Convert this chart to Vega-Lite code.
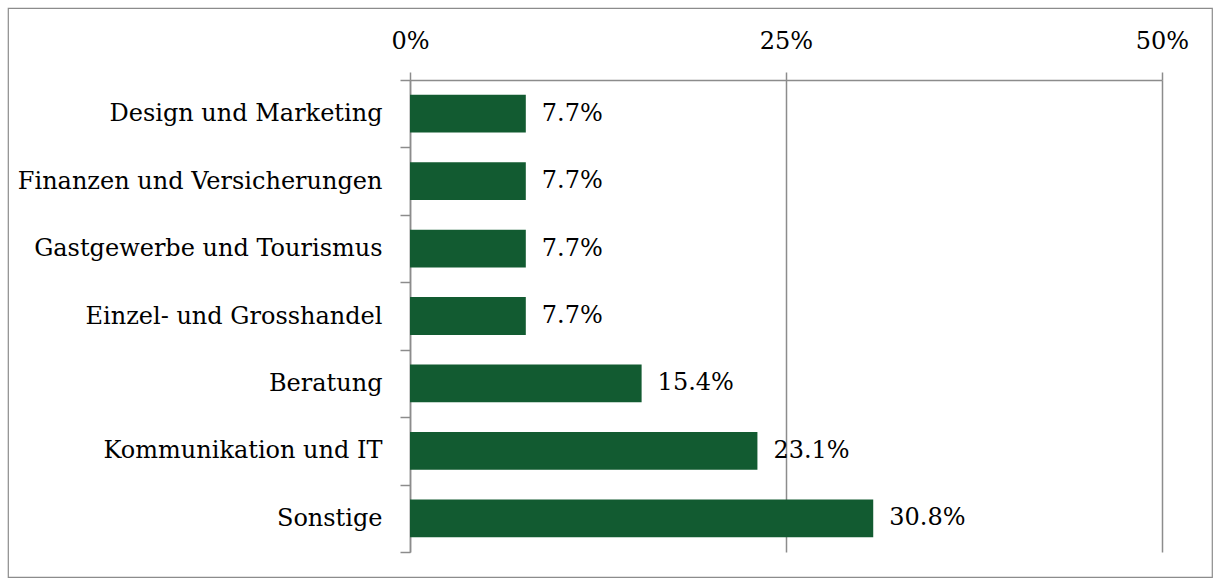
{
  "$schema": "https://vega.github.io/schema/vega-lite/v6.json",
  "width": 1204,
  "height": 569,
  "autosize": {"type": "none"},
  "padding": {"left": 8, "top": 8, "right": 2, "bottom": 2},
  "background": "white",
  "config": {
    "view": {"stroke": "#8c8c8c", "strokeWidth": 1.2},
    "font": "DejaVu Serif"
  },
  "data": {
    "values": [
      {"sector": "Design und Marketing", "share": 0.077},
      {"sector": "Finanzen und Versicherungen", "share": 0.077},
      {"sector": "Gastgewerbe und Tourismus", "share": 0.077},
      {"sector": "Einzel- und Grosshandel", "share": 0.077},
      {"sector": "Beratung", "share": 0.154},
      {"sector": "Kommunikation und IT", "share": 0.231},
      {"sector": "Sonstige", "share": 0.308}
    ]
  },
  "encoding": {
    "y": {
      "field": "sector",
      "type": "nominal",
      "sort": null,
      "scale": {"range": [72, 544], "paddingInner": 0, "paddingOuter": 0},
      "axis": {
        "title": null,
        "orient": "left",
        "offset": -402,
        "tickBand": "extent",
        "tickSize": 10,
        "tickColor": "#8c8c8c",
        "tickWidth": 1.5,
        "domainColor": "#8c8c8c",
        "domainWidth": 1.5,
        "labelPadding": 18,
        "labelFontSize": 24,
        "labelColor": "#000000",
        "labelLimit": 0,
        "grid": false
      }
    },
    "x": {
      "field": "share",
      "type": "quantitative",
      "scale": {"domain": [0, 0.5], "range": [402, 1154], "nice": false, "zero": true},
      "axis": {
        "title": null,
        "orient": "top",
        "offset": -72,
        "values": [0, 0.25, 0.5],
        "format": ".0%",
        "labelFlush": false,
        "tickSize": 8,
        "tickColor": "#8c8c8c",
        "tickWidth": 1.5,
        "domainColor": "#8c8c8c",
        "domainWidth": 1.5,
        "grid": true,
        "gridColor": "#8c8c8c",
        "gridWidth": 1.5,
        "gridOpacity": 1,
        "labelPadding": 19,
        "labelFontSize": 24,
        "labelColor": "#000000"
      }
    }
  },
  "layer": [
    {"mark": {"type": "bar", "color": "#125b31", "height": {"band": 0.56}}},
    {
      "mark": {"type": "text", "align": "left", "baseline": "middle", "dx": 16, "fontSize": 24, "color": "#000000"},
      "encoding": {"text": {"field": "share", "type": "quantitative", "format": ".1%"}}
    }
  ]
}
